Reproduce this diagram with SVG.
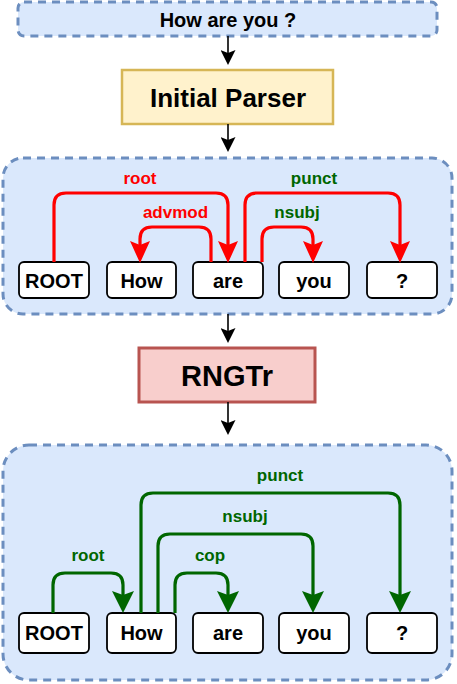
<svg xmlns="http://www.w3.org/2000/svg" width="457" height="684" viewBox="0 0 457 684">
<defs>
<style>
.cont{fill:#dae8fc;stroke:#6c8ebf;stroke-width:3;stroke-dasharray:8 6}
.word{fill:#ffffff;stroke:#000000;stroke-width:1.8}
.wt{font-family:"Liberation Sans",Arial,sans-serif;font-weight:bold;font-size:20px;fill:#000;text-anchor:middle}
.lbl{font-family:"Liberation Sans",Arial,sans-serif;font-weight:bold;font-size:17px;text-anchor:middle}
.red{fill:#ff0000}
.grn{fill:#006600}
.ared{fill:none;stroke:#ff0000;stroke-width:3.2;marker-end:url(#mr)}
.agrn{fill:none;stroke:#006600;stroke-width:3.2;marker-end:url(#mg)}
.ablk{fill:none;stroke:#000;stroke-width:1.6;marker-end:url(#mb)}
</style>
<marker id="mr" markerUnits="userSpaceOnUse" markerWidth="22" markerHeight="20" viewBox="0 0 22 20" refX="8" refY="10" orient="auto"><path d="M22,10 L0,0 L4,10 L0,20 Z" fill="#ff0000"/></marker>
<marker id="mg" markerUnits="userSpaceOnUse" markerWidth="22" markerHeight="22" viewBox="0 0 22 22" refX="8" refY="11" orient="auto"><path d="M22,11 L0,0 L4,11 L0,22 Z" fill="#006600"/></marker>
<marker id="mb" markerUnits="userSpaceOnUse" markerWidth="15" markerHeight="15" viewBox="0 0 15 15" refX="6" refY="7.5" orient="auto"><path d="M15,7.5 L0,0 L3,7.5 L0,15 Z" fill="#000"/></marker>
</defs>

<g id="input">
<rect x="18" y="2" width="419" height="34" rx="6" class="cont"/>
<text x="228" y="27" class="wt">How are you ?</text>
</g>

<g id="initial-parser">
<rect x="122" y="70" width="211" height="54" fill="#fff2cc" stroke="#d6b656" stroke-width="2.5"/>
<text x="228" y="107" style="font-family:'Liberation Sans',Arial,sans-serif;font-weight:bold;font-size:26px;text-anchor:middle">Initial Parser</text>
</g>

<g id="initial-tree">
<rect x="3" y="158" width="449" height="156" rx="20" class="cont"/>
<g id="m-root"><rect x="19" y="262" width="70" height="36" rx="5" class="word"/><text x="54" y="288" class="wt">ROOT</text></g>
<g id="m-how"><rect x="107" y="262" width="69" height="36" rx="5" class="word"/><text x="141.5" y="288" class="wt">How</text></g>
<g id="m-are"><rect x="193" y="262" width="70" height="36" rx="5" class="word"/><text x="228" y="288" class="wt">are</text></g>
<g id="m-you"><rect x="279" y="262" width="70" height="36" rx="5" class="word"/><text x="314" y="288" class="wt">you</text></g>
<g id="m-q"><rect x="367" y="262" width="70" height="36" rx="5" class="word"/><text x="402" y="288" class="wt">?</text></g>
</g>

<g id="rngtr">
<rect x="139" y="348" width="176" height="54" fill="#f8cecc" stroke="#b85450" stroke-width="3"/>
<text x="227" y="386" style="font-family:'Liberation Sans',Arial,sans-serif;font-weight:bold;font-size:29px;text-anchor:middle">RNGTr</text>
</g>

<g id="refined-tree">
<rect x="3" y="445" width="449" height="235" rx="26" class="cont"/>
<g id="b-root"><rect x="19" y="613" width="70" height="40" rx="5" class="word"/><text x="54" y="640" class="wt">ROOT</text></g>
<g id="b-how"><rect x="107" y="613" width="69" height="40" rx="5" class="word"/><text x="141.5" y="640" class="wt">How</text></g>
<g id="b-are"><rect x="193" y="613" width="70" height="40" rx="5" class="word"/><text x="228" y="640" class="wt">are</text></g>
<g id="b-you"><rect x="279" y="613" width="70" height="40" rx="5" class="word"/><text x="314" y="640" class="wt">you</text></g>
<g id="b-q"><rect x="367" y="613" width="70" height="40" rx="5" class="word"/><text x="402" y="640" class="wt">?</text></g>
</g>

<g id="connectors">
<path d="M228,36 V56" class="ablk"/>
<path d="M228,124 V143" class="ablk"/>
<path d="M228,314 V334" class="ablk"/>
<path d="M228,402 V426" class="ablk"/>

<path d="M54,262 V205 Q54,193 66,193 H216 Q228,193 228,205 V249" class="ared"/>
<path d="M211,262 V239 Q211,227 199,227 H152 Q140,227 140,239 V249" class="ared"/>
<path d="M245,262 V205 Q245,193 257,193 H388 Q400,193 400,205 V249" class="ared"/>
<path d="M262,262 V239 Q262,227 274,227 H301 Q313,227 313,239 V249" class="ared"/>
<text x="140" y="184" class="lbl red">root</text>
<text x="175.5" y="218" class="lbl red">advmod</text>
<text x="314" y="184" class="lbl grn">punct</text>
<text x="297" y="218" class="lbl grn">nsubj</text>

<path d="M53,613 V585 Q53,573 65,573 H111 Q123,573 123,585 V599" class="agrn"/>
<path d="M175,613 V585 Q175,573 187,573 H216 Q228,573 228,585 V599" class="agrn"/>
<path d="M158,613 V546 Q158,534 170,534 H301 Q313,534 313,546 V599" class="agrn"/>
<path d="M141,613 V505 Q141,493 153,493 H388 Q400,493 400,505 V599" class="agrn"/>
<text x="88" y="561" class="lbl grn">root</text>
<text x="210" y="561" class="lbl grn">cop</text>
<text x="245" y="522" class="lbl grn">nsubj</text>
<text x="280" y="481" class="lbl grn">punct</text>
</g>
</svg>
